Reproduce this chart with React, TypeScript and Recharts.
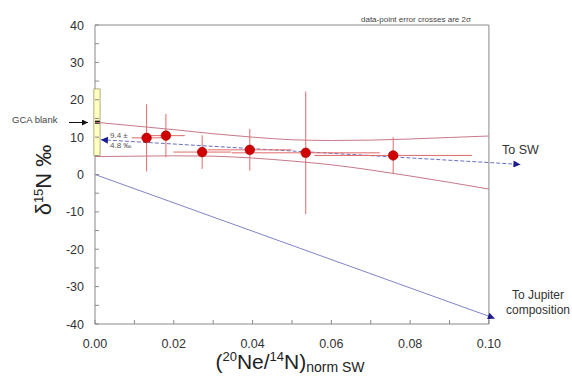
import React from "react";
import {
  ComposedChart,
  Scatter,
  Line,
  XAxis,
  YAxis,
  ErrorBar,
  ReferenceArea,
  ReferenceLine,
} from "recharts";

// measured points (2 sigma crosses)
const ptX = [0.0131, 0.018, 0.0272, 0.0393, 0.0535, 0.0757];
const ptY = [9.8, 10.4, 6.0, 6.6, 5.8, 5.1];
const ptXErr = [0.0038, 0.0048, 0.0073, 0.0106, 0.0188, 0.02];
const ptYErr = [9.0, 5.8, 4.5, 5.6, 16.4, 4.9];

// confidence envelope
const envX = [0, 0.01, 0.02, 0.03, 0.04, 0.05, 0.06, 0.07, 0.08, 0.09, 0.1];
const envUpper = [14.0, 13.0, 12.0, 10.9, 10.0, 9.3, 9.1, 9.2, 9.5, 9.9, 10.3];
const envLower = [4.8, 4.9, 5.0, 4.9, 4.4, 3.6, 2.6, 1.2, -0.4, -2.1, -3.9];

// mixing lines
const swX = [0.0015, 0.108];
const swY = [9.3, 2.7];
const jupX = [0, 0.1015];
const jupY = [0, -38.5];

// GCA blank
const gcaLow = 5;
const gcaHigh = 22.9;
const gcaValue = 14;

const xTicks = [0, 0.01, 0.02, 0.03, 0.04, 0.05, 0.06, 0.07, 0.08, 0.09, 0.1];
const yTicks = [-40, -35, -30, -25, -20, -15, -10, -5, 0, 5, 10, 15, 20, 25, 30, 35, 40];

const points = ptX.map((x, i) => ({ x, y: ptY[i], ex: ptXErr[i], ey: ptYErr[i] }));
const upperData = envX.map((x, i) => ({ x, y: envUpper[i] }));
const lowerData = envX.map((x, i) => ({ x, y: envLower[i] }));
const swData = swX.map((x, i) => ({ x, y: swY[i] }));
const jupData = jupX.map((x, i) => ({ x, y: jupY[i] }));

const FONT = "'Liberation Sans', Arial, sans-serif";
const AXIS = "#8a8a8a";

function XTick(props: any) {
  const { x, y, payload } = props;
  const major = Math.round(payload.value * 100) % 2 === 0;
  return (
    <g>
      <line x1={x} x2={x} y1={y} y2={y - 4} stroke={AXIS} />
      {major && (
        <text x={x} y={y + 24} textAnchor="middle" fontSize={12.5} fill="#333" fontFamily={FONT}>
          {payload.value.toFixed(2)}
        </text>
      )}
    </g>
  );
}

function YTick(props: any) {
  const { x, y, payload } = props;
  const major = payload.value % 10 === 0;
  return (
    <g>
      <line x1={x} x2={x + 4} y1={y} y2={y} stroke={AXIS} />
      {major && (
        <text x={x - 11} y={y + 4.5} textAnchor="end" fontSize={12.5} fill="#333" fontFamily={FONT}>
          {payload.value}
        </text>
      )}
    </g>
  );
}

const dot = (props: any) => (
  <circle cx={props.cx} cy={props.cy} r={4.8} fill="#d00000" stroke="#a00000" strokeWidth={0.6} />
);

export default function App() {
  return (
    <div style={{ position: "fixed", left: 0, top: 0, width: 572, height: 379, background: "#fff" }}>
      <ComposedChart
        width={572}
        height={379}
        margin={{ top: 25, right: 24, bottom: 25, left: 0 }}
      >
        <XAxis
          dataKey="x"
          type="number"
          domain={[0, 0.115]}
          ticks={xTicks}
          axisLine={false}
          tickLine={false}
          tickSize={0}
          tickMargin={0}
          height={30}
          tick={<XTick />}
          interval={0}
        />
        <YAxis
          type="number"
          domain={[-40, 40]}
          ticks={yTicks}
          axisLine={false}
          tickLine={false}
          tickSize={0}
          tickMargin={0}
          width={95}
          tick={<YTick />}
          interval={0}
        />
        <ReferenceArea x1={0} x2={0.1} y1={-40} y2={40} fill="none" stroke={AXIS} strokeWidth={1} ifOverflow="visible" />
        <ReferenceArea
          x1={-0.0003}
          x2={0.0013}
          y1={gcaLow}
          y2={gcaHigh}
          fill="#ffffc0"
          fillOpacity={1}
          stroke="#9a9a70"
          strokeWidth={0.8}
          ifOverflow="visible"
        />
        <ReferenceLine
          segment={[
            { x: 0, y: gcaValue },
            { x: 0.0012, y: gcaValue },
          ]}
          stroke="#000"
          strokeWidth={3}
          ifOverflow="visible"
        />
        <Line data={upperData} dataKey="y" type="monotone" stroke="#c8788a" strokeWidth={1} dot={false} isAnimationActive={false} />
        <Line data={lowerData} dataKey="y" type="monotone" stroke="#c8788a" strokeWidth={1} dot={false} isAnimationActive={false} />
        <Line
          data={jupData}
          dataKey="y"
          type="linear"
          stroke="#7f84cc"
          strokeWidth={1}
          dot={false}
          isAnimationActive={false}
          markerEnd="url(#arrowBlue)"
        />
        <Line
          data={swData}
          dataKey="y"
          type="linear"
          stroke="#6a6ec0"
          strokeWidth={1}
          strokeDasharray="4 2"
          dot={false}
          isAnimationActive={false}
          markerStart="url(#arrowBlue)"
          markerEnd="url(#arrowBlue)"
        />
        <Scatter data={points} dataKey="y" shape={dot} isAnimationActive={false}>
          <ErrorBar dataKey="ex" direction="x" width={0} stroke="#e06a6a" strokeWidth={1} isAnimationActive={false} />
          <ErrorBar dataKey="ey" direction="y" width={0} stroke="#e06a6a" strokeWidth={1} isAnimationActive={false} />
        </Scatter>
      </ComposedChart>
      <svg
        width={572}
        height={379}
        style={{ position: "absolute", left: 0, top: 0, pointerEvents: "none" }}
        fontFamily={FONT}
      >
        <defs>
          <marker
            id="arrowBlue"
            viewBox="0 0 10 10"
            refX={10}
            refY={5}
            markerWidth={9}
            markerHeight={7}
            markerUnits="userSpaceOnUse"
            orient="auto-start-reverse"
          >
            <path d="M0,0 L10,5 L0,10 z" fill="#1c1c8a" />
          </marker>
          <marker
            id="arrowBlack"
            viewBox="0 0 10 10"
            refX={10}
            refY={5}
            markerWidth={7}
            markerHeight={6}
            markerUnits="userSpaceOnUse"
            orient="auto"
          >
            <path d="M0,0 L10,5 L0,10 z" fill="#111" />
          </marker>
        </defs>
        <text x={361} y={22} fontSize={8} fill="#444">
          data-point error crosses are 2σ
        </text>
        <text x={12} y={123} fontSize={9.5} fill="#444">
          GCA blank
        </text>
        <line x1={69} x2={88} y1={122.5} y2={122.5} stroke="#111" strokeWidth={1} markerEnd="url(#arrowBlack)" />
        <text x={110} y={138} fontSize={8} fill="#555">
          9.4 ±
        </text>
        <text x={110} y={147.5} fontSize={8} fill="#555">
          4.8 ‰
        </text>
        <text x={502} y={154} fontSize={12.5} fill="#333">
          To SW
        </text>
        <text x={538} y={299} fontSize={12} fill="#333" textAnchor="middle">
          To Jupiter
        </text>
        <text x={538} y={314} fontSize={12} fill="#333" textAnchor="middle">
          composition
        </text>
        <text transform="translate(51,180) rotate(-90)" textAnchor="middle" fontSize={22} fill="#222">
          δ<tspan fontSize={13} dy={-8}>15</tspan>
          <tspan dy={8}>N ‰</tspan>
        </text>
        <text x={290} y={369} textAnchor="middle" fontSize={21} fill="#222">
          (<tspan fontSize={13} dy={-8}>20</tspan>
          <tspan dy={8}>Ne/</tspan>
          <tspan fontSize={13} dy={-8}>14</tspan>
          <tspan dy={8}>N)</tspan>
          <tspan fontSize={14} dy={3}>norm SW</tspan>
        </text>
      </svg>
    </div>
  );
}
